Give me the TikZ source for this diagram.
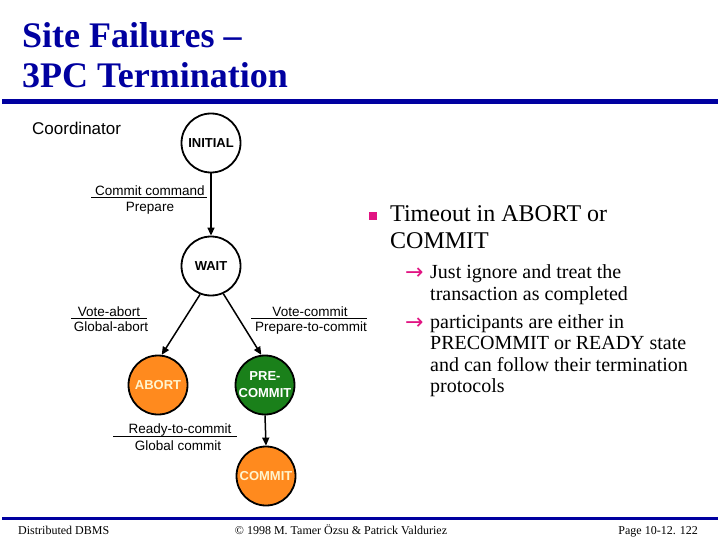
\documentclass[tikz,border=0pt]{standalone}
\usepackage{fontspec}
\setmainfont{Liberation Serif}
\setsansfont{Liberation Sans}
\newfontfamily\symfont{DejaVu Sans}
\usetikzlibrary{arrows.meta}
\definecolor{titleblue}{RGB}{0,0,160}
\definecolor{nodeorange}{RGB}{255,138,30}
\definecolor{nodegreen}{RGB}{26,128,26}
\definecolor{bulletpink}{RGB}{225,20,130}
\definecolor{pale}{RGB}{255,244,205}
\begin{document}
\begin{tikzpicture}[x=1pt,y=-1pt,
  state/.style={circle,draw=black,line width=1.8pt,minimum size=59pt,inner sep=0pt,
    font=\sffamily\bfseries\fontsize{13}{14}\selectfont,align=center},
  trans/.style={-{Triangle[length=8pt,width=7pt]},line width=1.5pt},
  lab/.style={font=\sffamily\fontsize{13.5}{16}\selectfont,inner sep=0pt,anchor=base},
  titletext/.style={font=\bfseries\fontsize{36}{38}\selectfont,text=titleblue,inner sep=0pt,anchor=base west},
  big/.style={font=\fontsize{24}{26}\selectfont,inner sep=0pt,anchor=base west},
  small/.style={font=\fontsize{20}{22}\selectfont,inner sep=0pt,anchor=base west},
  foot/.style={font=\fontsize{12}{14}\selectfont,inner sep=0pt,anchor=base},
  arrowmark/.style={font=\symfont\fontsize{22}{22}\selectfont,text=bulletpink,inner sep=0pt,anchor=base west}
]
\useasboundingbox[fill=white] (0,0) rectangle (720,540);

% title
\node[titletext] (t1) at (22,48) {Site Failures --};
\node[titletext] (t2) at (22,88) {3PC Termination};
\fill[titleblue] (2,99.5) rectangle (718,104);

% coordinator
\node[font=\sffamily\fontsize{17}{18}\selectfont,inner sep=0pt,anchor=base west] (coord) at (32,135) {Coordinator};

\node[state,fill=white] (init) at (211,143) {INITIAL};
\node[state,fill=white] (wait) at (211,266) {WAIT};
\node[state,fill=nodeorange,text=pale] (abort) at (158,385) {ABORT};
\node[state,fill=nodegreen,text=white,font=\sffamily\bfseries\fontsize{13}{17}\selectfont] (pre) at (265,385) {PRE-\\COMMIT};
\node[state,fill=nodeorange,text=pale] (commit) at (266,476) {COMMIT};

\draw[trans] (init.south) -- (wait.north);
\draw[trans] (wait.-111) -- (abort.83);
\draw[trans] (wait.-66) -- (pre.97);
\draw[trans] (pre.south) -- (commit.north);

% transition labels
\node[lab] (l1a) at (150,195.5) {Commit command};
\node[lab] (l1b) at (150,211.5) {Prepare};
\draw[line width=1pt] (91,198) -- (207,198);

\node[lab] (l2a) at (109,316) {Vote-abort};
\node[lab] (l2b) at (111,331) {Global-abort};
\draw[line width=1pt] (71,318) -- (147,318);

\node[lab] (l3a) at (310,316) {Vote-commit};
\node[lab] (l3b) at (311,331) {Prepare-to-commit};
\draw[line width=1pt] (251,318) -- (367,318);

\node[lab] (l4a) at (180,433.5) {Ready-to-commit};
\node[lab] (l4b) at (178,450.5) {Global commit};
\draw[line width=1pt] (113,436) -- (237,436);

% bullets
\fill[bulletpink] (369,212) rectangle (377,220);
\node[big] (b1) at (390,222) {Timeout in ABORT or};
\node[big] (b2) at (390,248) {COMMIT};

\node[arrowmark] (a1) at (405,279) {→};
\node[small] (s1) at (430,278) {Just ignore and treat the};
\node[small] (s2) at (430,300) {transaction as completed};
\node[arrowmark] (a2) at (405,329) {→};
\node[small] (s3) at (430,328) {participants are either in};
\node[small] (s4) at (430,349.5) {PRECOMMIT or READY state};
\node[small] (s5) at (430,371) {and can follow their termination};
\node[small] (s6) at (430,392.5) {protocols};

% footer
\fill[titleblue] (2,516.5) rectangle (718,520);
\node[foot,anchor=base west] (f1) at (18,534) {Distributed DBMS};
\node[foot] (f2) at (341,534) {© 1998 M. Tamer Özsu \& Patrick Valduriez};
\node[foot,anchor=base east] (f3) at (698,534) {Page 10-12. 122};
\end{tikzpicture}
\end{document}
